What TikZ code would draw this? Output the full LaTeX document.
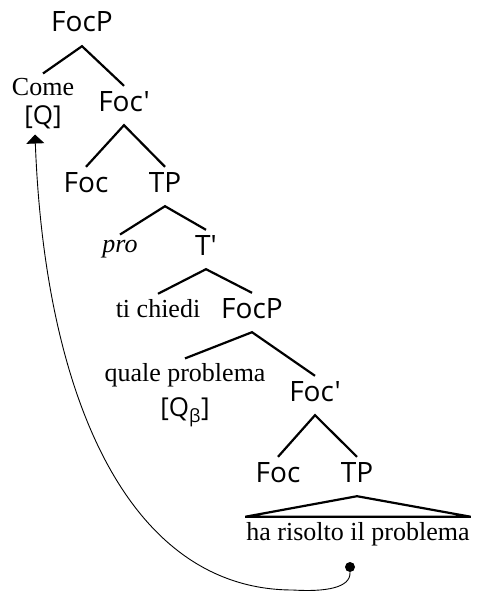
\documentclass[tikz,border=0pt]{standalone}
\usepackage{fontspec}
\setmainfont{Liberation Serif}
\newfontfamily\catfont{Open Sans}
\usetikzlibrary{arrows.meta}
\begin{document}
\begin{tikzpicture}[x=1pt, y=-1pt,
  cat/.style={font=\catfont\fontsize{28}{32}\selectfont, anchor=base, inner xsep=0pt, inner ysep=5pt, text depth=9pt},
  word/.style={font=\fontsize{26}{29}\selectfont, anchor=base, inner xsep=1pt, inner ysep=5pt},
  branch/.style={line width=2.2pt, line join=miter}]
  \useasboundingbox (0,0) rectangle (477,591);
  % upper FocP
  \node[cat] (focp1) at (82,32) {FocP};
  \node[word, anchor=center, align=center] (come) at (43,104) {Come\\{\catfont [Q]}};
  \node[cat] (focbar1) at (124,111) {Foc'};
  \node[cat] (foc1) at (86,192) {Foc};
  \node[cat] (tp1) at (165,192) {TP};
  % TP
  \node[word] (pro) at (120,252) {\textit{pro}};
  \node[cat] (tbar) at (206,255) {T'};
  \node[word] (tichiedi) at (158,317) {ti chiedi};
  % lower FocP
  \node[cat] (focp2) at (252,318) {FocP};
  \node[word, anchor=center, align=center] (quale) at (185,395) {quale problema\\[6pt]{\catfont [Q\textsubscript{β}]}};
  \node[cat] (focbar2) at (315,401) {Foc'};
  \node[cat] (foc2) at (278,482) {Foc};
  \node[cat] (tp2) at (357,482) {TP};
  \node[word] (risolto) at (358,540) {ha risolto il problema};
  \node[circle, fill, inner sep=0pt, minimum size=10pt] (trace) at (350,567) {};
  % branches
  \draw[branch] (come.north) -- (focp1.south) -- (focbar1.north);
  \draw[branch] (foc1.north) -- (focbar1.south) -- (tp1.north);
  \draw[branch] (pro.north) -- (tp1.south) -- (tbar.north);
  \draw[branch] (tichiedi.north) -- (tbar.south) -- (focp2.north);
  \draw[branch] (quale.north) -- (focp2.south) -- (focbar2.north);
  \draw[branch] (foc2.north) -- (focbar2.south) -- (tp2.north);
  \draw[branch] (risolto.north west) -- (tp2.south) -- (risolto.north east) -- cycle;
  % movement
  \draw[-{Triangle[width=18pt,length=9pt]}, line width=0.9pt] (trace.south) .. controls (351,588) and (325,592) .. (293,590) .. controls (130,590) and (45,400) .. ([xshift=-8pt]come.south);
\end{tikzpicture}
\end{document}
